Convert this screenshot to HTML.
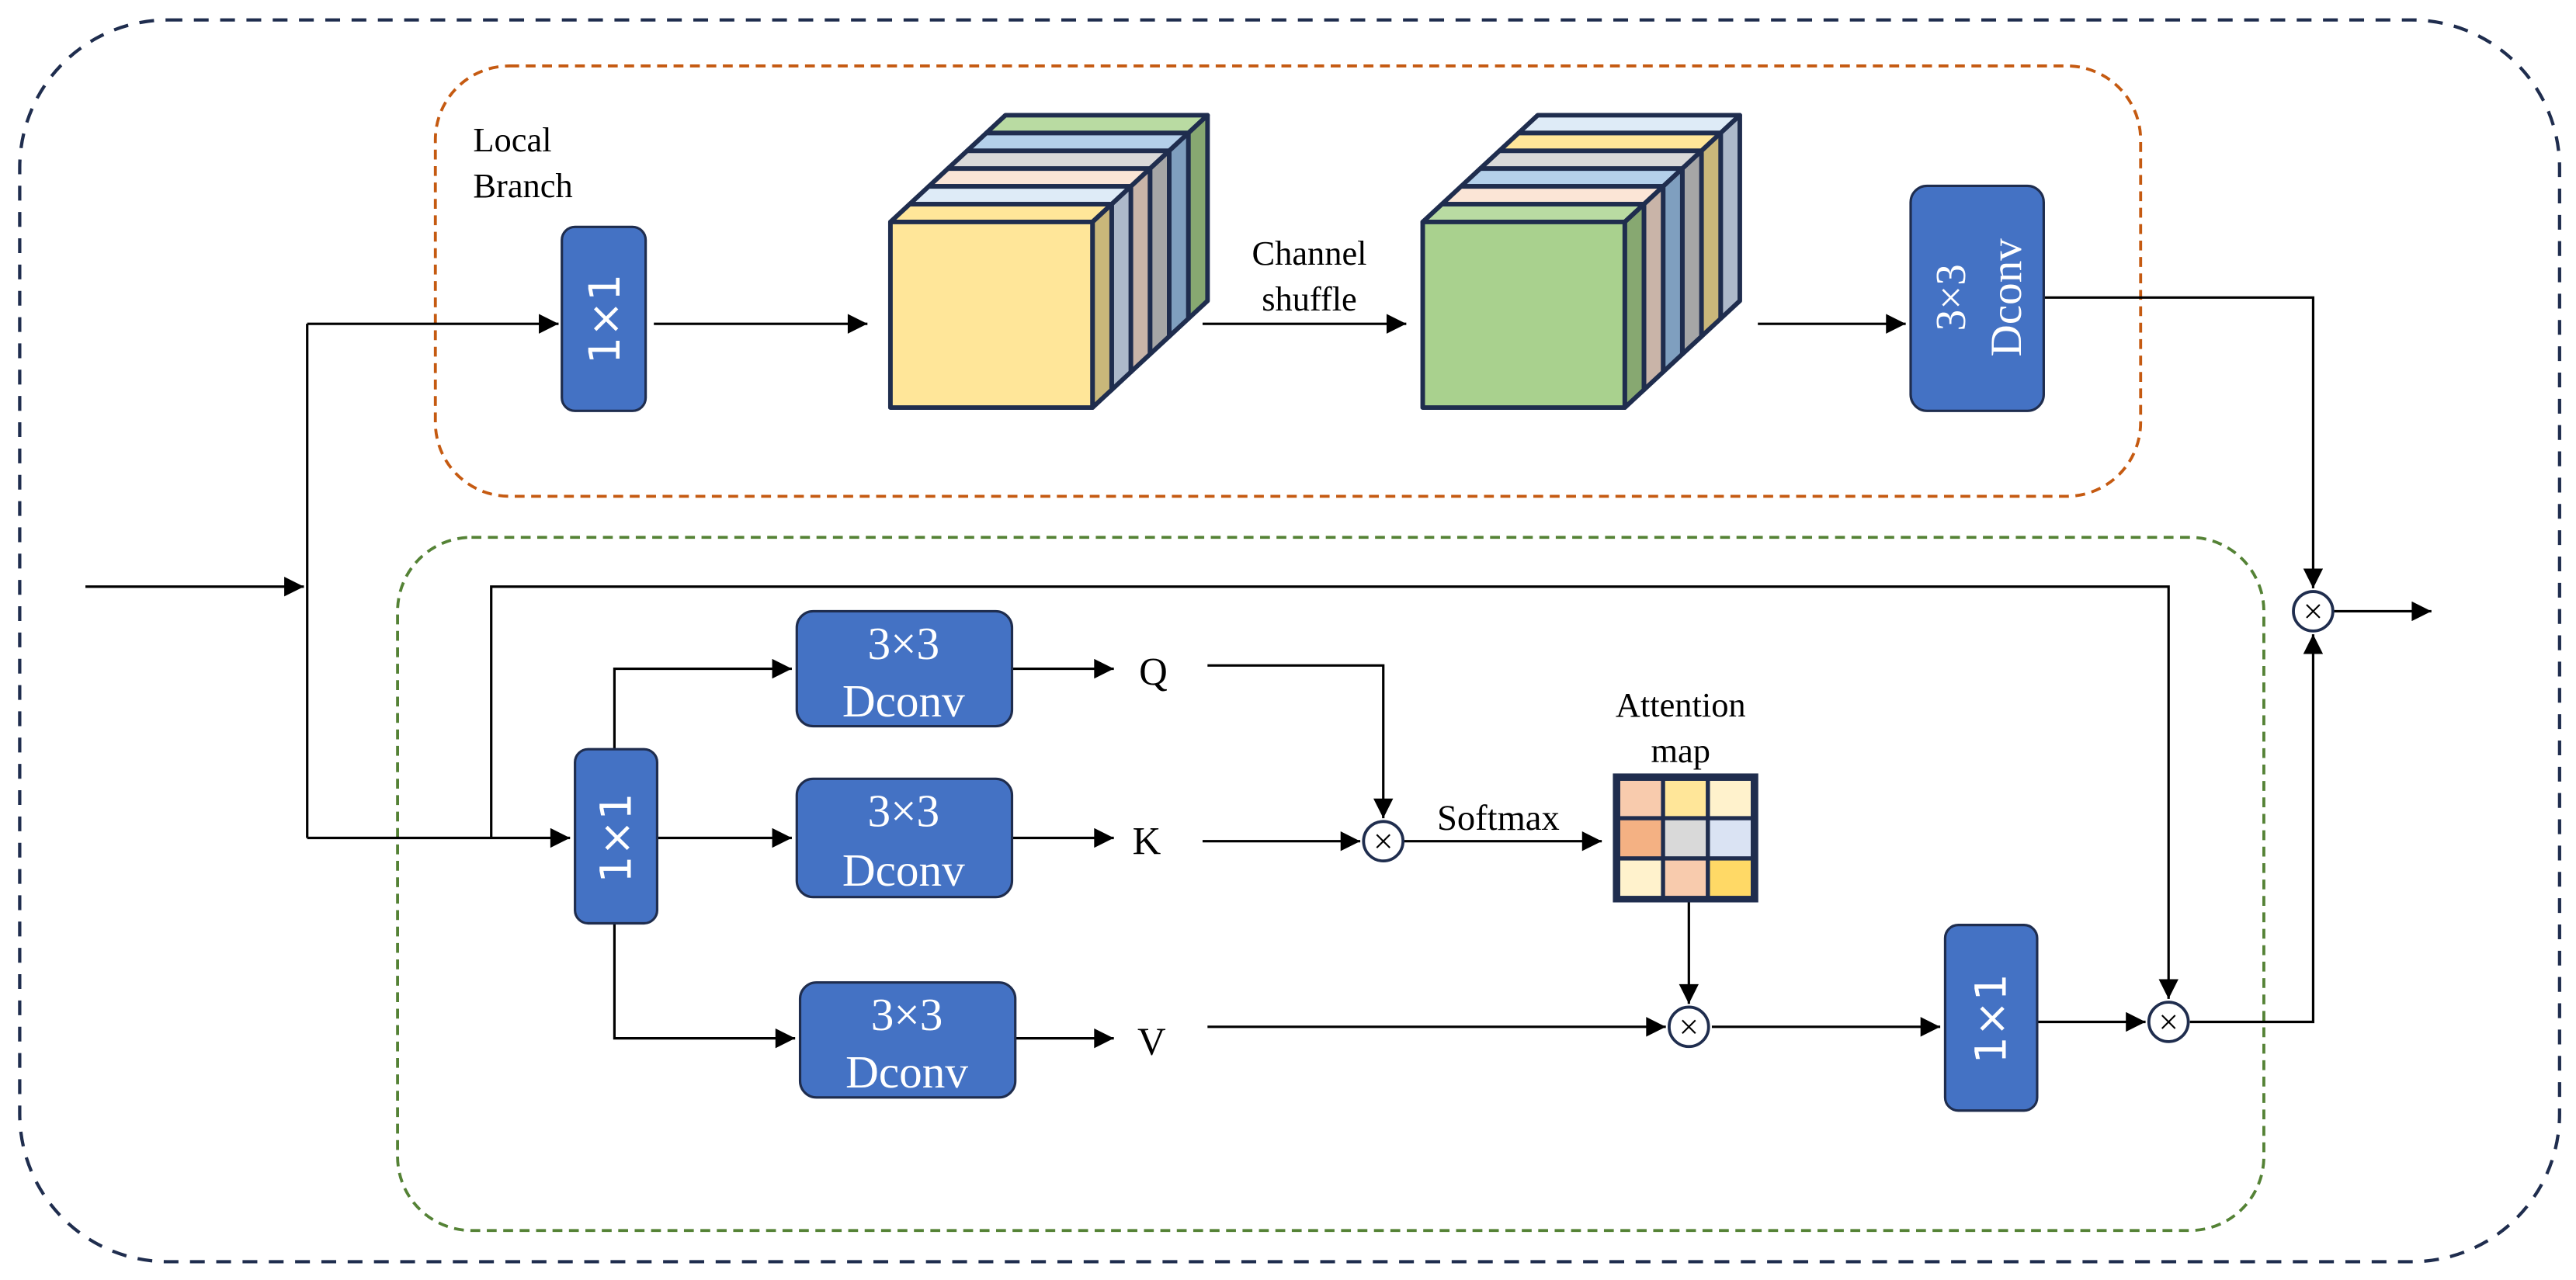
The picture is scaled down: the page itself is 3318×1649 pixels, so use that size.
<!DOCTYPE html>
<html><head><meta charset="utf-8"><style>
html,body{margin:0;padding:0;background:#fff}
svg{display:block}
text{font-family:"Liberation Serif",serif;fill:#000}
</style></head><body>
<svg width="3318" height="1649" viewBox="0 0 1568 779" xmlns="http://www.w3.org/2000/svg">
<defs>
<marker id="a" viewBox="0 0 10 10" refX="10" refY="5" markerWidth="16" markerHeight="12" markerUnits="userSpaceOnUse" orient="auto"><path d="M0,0 L10,5 L0,10 z" fill="#000"/></marker>
</defs>
<rect x="12" y="12" width="1546" height="756" rx="90" fill="none" stroke="#1f2d4e" stroke-width="2" stroke-dasharray="9,7"/>
<rect x="265" y="40" width="1038" height="262" rx="45" fill="none" stroke="#c55a11" stroke-width="1.8" stroke-dasharray="6,4"/>
<rect x="242" y="327" width="1136" height="422" rx="45" fill="none" stroke="#548235" stroke-width="1.8" stroke-dasharray="6,4"/>

<g fill="none" stroke="#000" stroke-width="1.5">
<path d="M52,357 H185" marker-end="url(#a)"/>
<path d="M187,197 V510"/>
<path d="M187,197 H340" marker-end="url(#a)"/>
<path d="M398,197 H528" marker-end="url(#a)"/>
<path d="M732,197 H856" marker-end="url(#a)"/>
<path d="M1070,197 H1160" marker-end="url(#a)"/>
<path d="M1244,181 H1408 V358" marker-end="url(#a)"/>
<path d="M1420,372 H1480" marker-end="url(#a)"/>
<path d="M187,510 H347" marker-end="url(#a)"/>
<path d="M299,510 V357 H1320 V608" marker-end="url(#a)"/>
<path d="M374,456 V407 H482" marker-end="url(#a)"/>
<path d="M400,510 H482" marker-end="url(#a)"/>
<path d="M374,562 V632 H484" marker-end="url(#a)"/>
<path d="M616,407 H678" marker-end="url(#a)"/>
<path d="M616,510 H678" marker-end="url(#a)"/>
<path d="M618,632 H678" marker-end="url(#a)"/>
<path d="M735,405 H842 V498" marker-end="url(#a)"/>
<path d="M732,512 H828" marker-end="url(#a)"/>
<path d="M854,512 H975" marker-end="url(#a)"/>
<path d="M1028,548 V611" marker-end="url(#a)"/>
<path d="M735,625 H1014" marker-end="url(#a)"/>
<path d="M1042,625 H1181" marker-end="url(#a)"/>
<path d="M1240,622 H1306" marker-end="url(#a)"/>
<path d="M1333,622 H1408 V386" marker-end="url(#a)"/>
</g>

<!-- Cube 1 -->
<g stroke="#1f2d4e" stroke-width="2.8" stroke-linejoin="round">
<g transform="translate(58.35,-54.15)"><polygon points="542,135 665,135 676.67,124.17 553.67,124.17" fill="#b9dba2"/><polygon points="665,135 676.67,124.17 676.67,237.17 665,248" fill="#87a871"/></g>
<g transform="translate(46.68,-43.32)"><polygon points="542,135 665,135 676.67,124.17 553.67,124.17" fill="#b4d0ea"/><polygon points="665,135 676.67,124.17 676.67,237.17 665,248" fill="#7f9fbf"/></g>
<g transform="translate(35.01,-32.49)"><polygon points="542,135 665,135 676.67,124.17 553.67,124.17" fill="#d9d9d9"/><polygon points="665,135 676.67,124.17 676.67,237.17 665,248" fill="#a6a6a6"/></g>
<g transform="translate(23.34,-21.66)"><polygon points="542,135 665,135 676.67,124.17 553.67,124.17" fill="#fbe5d6"/><polygon points="665,135 676.67,124.17 676.67,237.17 665,248" fill="#c9b4a8"/></g>
<g transform="translate(11.67,-10.83)"><polygon points="542,135 665,135 676.67,124.17 553.67,124.17" fill="#deebf7"/><polygon points="665,135 676.67,124.17 676.67,237.17 665,248" fill="#adb9ca"/></g>
<g><polygon points="542,135 665,135 676.67,124.17 553.67,124.17" fill="#ffe699"/><polygon points="665,135 676.67,124.17 676.67,237.17 665,248" fill="#c9b77a"/></g>
<rect x="542" y="135" width="123" height="113" fill="#ffe699"/>
</g>
<!-- Cube 2 -->
<g stroke="#1f2d4e" stroke-width="2.8" stroke-linejoin="round" transform="translate(324,0)">
<g transform="translate(58.35,-54.15)"><polygon points="542,135 665,135 676.67,124.17 553.67,124.17" fill="#deebf7"/><polygon points="665,135 676.67,124.17 676.67,237.17 665,248" fill="#adb9ca"/></g>
<g transform="translate(46.68,-43.32)"><polygon points="542,135 665,135 676.67,124.17 553.67,124.17" fill="#ffe699"/><polygon points="665,135 676.67,124.17 676.67,237.17 665,248" fill="#c9b77a"/></g>
<g transform="translate(35.01,-32.49)"><polygon points="542,135 665,135 676.67,124.17 553.67,124.17" fill="#d9d9d9"/><polygon points="665,135 676.67,124.17 676.67,237.17 665,248" fill="#a6a6a6"/></g>
<g transform="translate(23.34,-21.66)"><polygon points="542,135 665,135 676.67,124.17 553.67,124.17" fill="#b4d0ea"/><polygon points="665,135 676.67,124.17 676.67,237.17 665,248" fill="#7f9fbf"/></g>
<g transform="translate(11.67,-10.83)"><polygon points="542,135 665,135 676.67,124.17 553.67,124.17" fill="#fbe5d6"/><polygon points="665,135 676.67,124.17 676.67,237.17 665,248" fill="#c9b4a8"/></g>
<g><polygon points="542,135 665,135 676.67,124.17 553.67,124.17" fill="#b9dba2"/><polygon points="665,135 676.67,124.17 676.67,237.17 665,248" fill="#87a871"/></g>
<rect x="542" y="135" width="123" height="113" fill="#a9d18e"/>
</g>

<!-- Boxes -->
<g fill="#4472c4" stroke="#1f2d4e" stroke-width="1.5">
<rect x="342" y="138" width="51" height="112" rx="8"/>
<rect x="1163" y="113" width="81" height="137" rx="10"/>
<rect x="350" y="456" width="50" height="106" rx="8"/>
<rect x="485" y="372" width="131" height="70" rx="10"/>
<rect x="485" y="474" width="131" height="72" rx="10"/>
<rect x="487" y="598" width="131" height="70" rx="10"/>
<rect x="1184" y="563" width="56" height="113" rx="8"/>
</g>
<g fill="#fff" font-size="28" text-anchor="middle">
<text transform="translate(377,194) rotate(-90)" style="font-family:'DejaVu Sans',sans-serif;fill:#fff" font-size="26">1×1</text>
<text transform="translate(384,510) rotate(-90)" style="font-family:'DejaVu Sans',sans-serif;fill:#fff" font-size="26">1×1</text>
<text transform="translate(1221,620) rotate(-90)" style="font-family:'DejaVu Sans',sans-serif;fill:#fff" font-size="26">1×1</text>
<text transform="translate(1196,181) rotate(-90)" style="fill:#fff" font-size="26">3×3</text>
<text transform="translate(1230,181) rotate(-90)" style="fill:#fff" font-size="27">Dconv</text>
<text x="550" y="401" style="fill:#fff">3×3</text><text x="550" y="436" style="fill:#fff">Dconv</text>
<text x="550" y="503" style="fill:#fff">3×3</text><text x="550" y="539" style="fill:#fff">Dconv</text>
<text x="552" y="627" style="fill:#fff">3×3</text><text x="552" y="662" style="fill:#fff">Dconv</text>
</g>

<!-- circles -->
<g fill="#fff" stroke="#1f2d4e" stroke-width="1.8">
<circle cx="842" cy="512" r="12"/><circle cx="1028" cy="625" r="12"/><circle cx="1320" cy="622" r="12"/><circle cx="1408" cy="372" r="12"/>
</g>
<g stroke="#000" stroke-width="1">
<path d="M838,508 l8,8 m0,-8 l-8,8"/><path d="M1024,621 l8,8 m0,-8 l-8,8"/><path d="M1316,618 l8,8 m0,-8 l-8,8"/><path d="M1404,368 l8,8 m0,-8 l-8,8"/>
</g>

<!-- attention grid -->
<g stroke="#1f2d4e" stroke-width="2.5">
<rect x="983" y="472" width="86" height="76" fill="#fff"/>
<rect x="985" y="474" width="27.3" height="24" fill="#f8cbad"/><rect x="1012.3" y="474" width="27.3" height="24" fill="#ffe699"/><rect x="1039.6" y="474" width="27.3" height="24" fill="#fff2cc"/>
<rect x="985" y="498" width="27.3" height="24.5" fill="#f4b183"/><rect x="1012.3" y="498" width="27.3" height="24.5" fill="#d9d9d9"/><rect x="1039.6" y="498" width="27.3" height="24.5" fill="#dae3f3"/>
<rect x="985" y="522.5" width="27.3" height="24" fill="#fff2cc"/><rect x="1012.3" y="522.5" width="27.3" height="24" fill="#f8cbad"/><rect x="1039.6" y="522.5" width="27.3" height="24" fill="#ffd966"/>
</g>

<!-- labels -->
<g font-size="21">
<text x="288" y="92">Local</text><text x="288" y="120">Branch</text>
<text x="797" y="161" text-anchor="middle">Channel</text><text x="797" y="189" text-anchor="middle">shuffle</text>
<text x="1023" y="436" text-anchor="middle">Attention</text><text x="1023" y="464" text-anchor="middle">map</text>
<text x="912" y="505" text-anchor="middle" font-size="22">Softmax</text>
</g>
<g font-size="24" text-anchor="middle">
<text x="702" y="417">Q</text><text x="698" y="520">K</text><text x="701" y="642">V</text>
</g>
</svg>
</body></html>
